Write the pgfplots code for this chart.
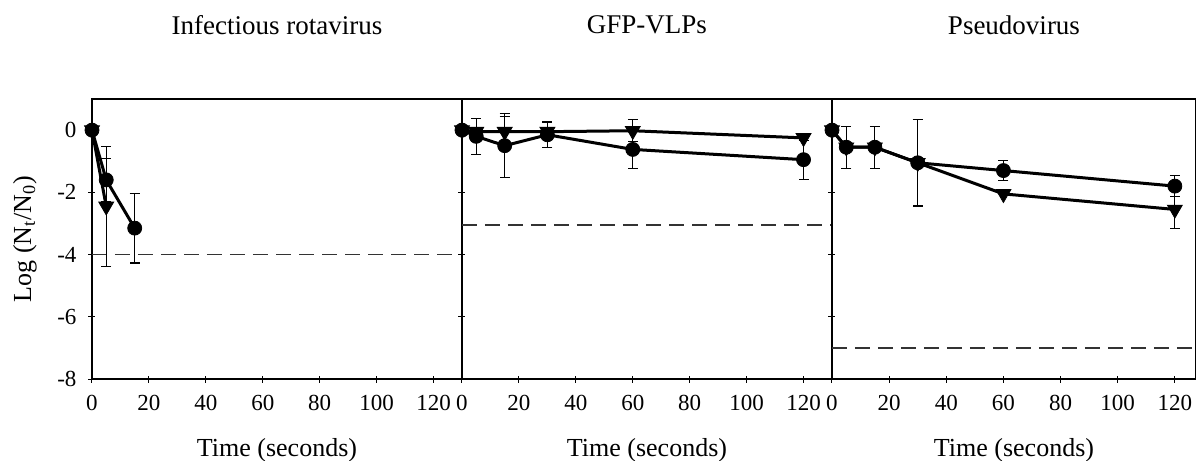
\documentclass[border=0pt]{standalone}
\usepackage{fontspec}
\setmainfont{Liberation Serif}
\usepackage{pgfplots}
\pgfplotsset{compat=1.18}

\pgfplotsset{
  panel/.style={
    scale only axis, width=185pt, height=140pt,
    xmin=0, xmax=130, ymin=-8, ymax=1,
    xtick={0,20,...,120}, ytick={0,-2,-4,-6,-8},
    xtick pos=bottom, ytick pos=left,
    tick align=center, major tick length=3.5pt,
    axis line style={line width=0.6pt},
    every tick/.style={black, line width=0.5pt},
    tick label style={font=\fontsize{11.5}{13}\selectfont},
    xticklabel style={yshift=-3pt},
    yticklabel style={xshift=-2.5pt},
    /pgf/number format/assume math mode=true,
    label style={font=\fontsize{13}{15}\selectfont},
    title style={font=\fontsize{13.5}{16}\selectfont, at={(axis description cs:0.5,1.221)}, anchor=center},
    xlabel={Time (seconds)},
    xlabel style={at={(axis description cs:0.5,-0.254)}, anchor=center},
    clip=false,
  },
  circ/.style={black, line width=1.5pt, mark=*, mark size=3.5pt,
    mark options={solid, line width=0.4pt},
    error bars/.cd, y dir=both, y explicit,
    error bar style={line width=0.55pt, black},
    error mark options={rotate=90, mark size=2.5pt, line width=0.55pt}},
  tri/.style={black, line width=1.5pt, mark=triangle*, mark size=4.3pt,
    mark options={solid, rotate=180, line width=0.4pt},
    error bars/.cd, y dir=both, y explicit,
    error bar style={line width=0.55pt, black},
    error mark options={rotate=90, mark size=2.5pt, line width=0.55pt}},
  limit/.style={black!80, line width=0.65pt, dash pattern=on 7.5pt off 4pt},
}

\begin{document}
\begin{tikzpicture}
\path[use as bounding box] (-46pt,-41pt) rectangle (552pt,189.5pt);

% rotavirus
\begin{axis}[panel, name=p1, title={Infectious rotavirus},
  ylabel={Log (N\textsubscript{t}/N\textsubscript{0})},
  ylabel style={at={(axis description cs:-0.181,0.5)}, anchor=center}]
\addplot[limit] coordinates {(0,-4) (130,-4)};
\addplot[tri] coordinates {
  (0,0) +- (0,0)
  (5,-2.45) +- (0,1.93)
};
\addplot[circ] coordinates {
  (0,0) +- (0,0)
  (5,-1.6) +- (0,0.7)
  (15,-3.15) +- (0,1.12)
};
\end{axis}

% GFP-VLPs
\begin{axis}[panel, name=p2, at={(p1.south east)}, anchor=south west,
  title={GFP-VLPs}, yticklabels={}]
\addplot[limit] coordinates {(0,-3.05) (130,-3.05)};
\addplot[tri] coordinates {
  (0,0) +- (0,0)
  (5,-0.05) +- (0,0)
  (15,-0.05) +- (0,0.5)
  (30,-0.05) +- (0,0)
  (60,-0.02) +- (0,0.36)
  (120,-0.25) +- (0,0)
};
\addplot[circ] coordinates {
  (0,0) +- (0,0)
  (5,-0.2) +- (0,0.58)
  (15,-0.5) +- (0,1.03)
  (30,-0.15) +- (0,0.41)
  (60,-0.62) +- (0,0.62)
  (120,-0.95) +- (0,0.63)
};
\end{axis}

% pseudovirus
\begin{axis}[panel, name=p3, at={(p2.south east)}, anchor=south west,
  width=182pt, xmax=127.4, title={Pseudovirus}, yticklabels={}]
\addplot[limit] coordinates {(0,-7) (127.4,-7)};
\addplot[tri] coordinates {
  (0,0) +- (0,0)
  (5,-0.55) +- (0,0)
  (15,-0.55) +- (0,0)
  (30,-1.05) +- (0,0)
  (60,-2.05) +- (0,0)
  (120,-2.55) +- (0,0.62)
};
\addplot[circ] coordinates {
  (0,0) +- (0,0)
  (5,-0.55) +- (0,0.68)
  (15,-0.55) +- (0,0.68)
  (30,-1.05) +- (0,1.39)
  (60,-1.3) +- (0,0.33)
  (120,-1.8) +- (0,0.33)
};
\end{axis}
\end{tikzpicture}
\end{document}
